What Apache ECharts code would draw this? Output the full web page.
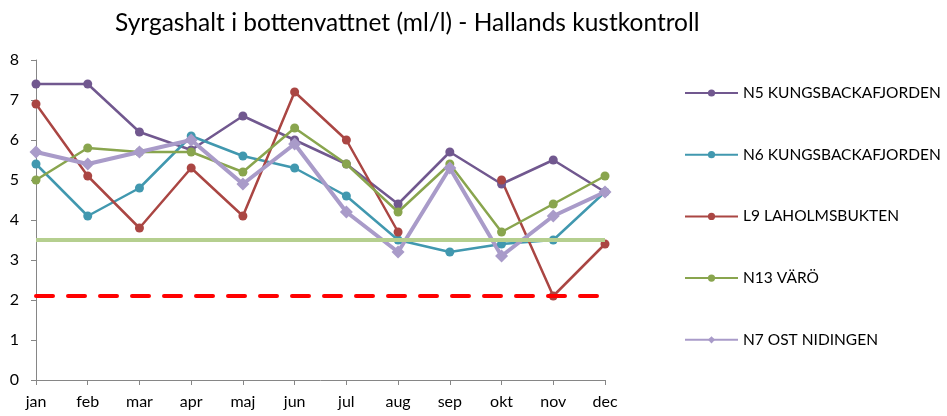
<!DOCTYPE html>
<html>
<head>
<meta charset="utf-8">
<script src="https://cdn.jsdelivr.net/npm/echarts@6/dist/echarts.min.js"></script>
<style>
  html, body { margin: 0; padding: 0; background: #fff; }
  #chart { width: 947px; height: 416px; }
</style>
</head>
<body>
<div id="chart"></div>
<script>
// månader
var months = ['jan', 'feb', 'mar', 'apr', 'maj', 'jun', 'jul', 'aug', 'sep', 'okt', 'nov', 'dec'];
// syrgashalt per station (ml/l)
var n5 = [7.4, 7.4, 6.2, 5.75, 6.6, 6.0, 5.4, 4.4, 5.7, 4.9, 5.5, 4.7];
var n6 = [5.4, 4.1, 4.8, 6.1, 5.6, 5.3, 4.6, 3.5, 3.2, 3.4, 3.5, 4.7];
var l9 = [6.9, 5.1, 3.8, 5.3, 4.1, 7.2, 6.0, 3.7, null, 5.0, 2.1, 3.4];
var n13 = [5.0, 5.8, 5.7, 5.7, 5.2, 6.3, 5.4, 4.2, 5.4, 3.7, 4.4, 5.1];
var n7 = [5.7, 5.4, 5.7, 6.0, 4.9, 5.9, 4.2, 3.2, 5.3, 3.1, 4.1, 4.7];
// gränsvärden
var limitGreen = 3.5;
var limitRed = 2.1;

var font = 'Lato';

function station(name, data, color, extra) {
  var s = {
    name: name,
    type: 'line',
    data: data,
    symbol: 'circle',
    symbolSize: 9,
    lineStyle: { color: color, width: 2.5 },
    itemStyle: { color: color },
    z: 3
  };
  return Object.assign(s, extra || {});
}

var myChart = echarts.init(document.getElementById('chart'));
var option = {
  animation: false,
  title: {
    text: 'Syrgashalt i bottenvattnet (ml/l) - Hallands kustkontroll',
    left: 110,
    top: 6,
    textStyle: { fontFamily: font, fontSize: 24.5, fontWeight: 'normal', color: '#000' }
  },
  legend: {
    orient: 'vertical',
    left: 679,
    top: 80,
    itemWidth: 53,
    itemHeight: 9,
    itemGap: 45.7,
    textStyle: { fontFamily: font, fontSize: 15.5, color: '#000' },
    data: ['N5 KUNGSBACKAFJORDEN', 'N6 KUNGSBACKAFJORDEN', 'L9 LAHOLMSBUKTEN', 'N13 VÄRÖ', 'N7 OST NIDINGEN']
  },
  grid: { left: 36, right: 342, top: 60, bottom: 36 },
  xAxis: {
    type: 'category',
    data: months,
    boundaryGap: false,
    axisLine: { lineStyle: { color: '#868686', width: 1 } },
    axisTick: { length: 5, lineStyle: { color: '#868686' } },
    axisLabel: { fontFamily: font, fontSize: 16, color: '#000', margin: 14 }
  },
  yAxis: {
    type: 'value',
    min: 0,
    max: 8,
    interval: 1,
    splitLine: { show: false },
    axisLine: { show: true, lineStyle: { color: '#868686', width: 1 } },
    axisTick: { show: true, length: 5, lineStyle: { color: '#868686' } },
    axisLabel: { fontFamily: font, fontSize: 16, color: '#000', margin: 17 }
  },
  series: [
    station('N5 KUNGSBACKAFJORDEN', n5, '#71588F', {
      markLine: {
        silent: true,
        symbol: 'none',
        label: { show: false },
        data: [
          { yAxis: limitGreen, lineStyle: { color: '#B5CF8F', width: 4, type: 'solid' } },
          { yAxis: limitRed, lineStyle: { color: '#FF0000', width: 4, type: [17, 15], cap: 'round' } }
        ]
      }
    }),
    station('N6 KUNGSBACKAFJORDEN', n6, '#4198AF'),
    station('L9 LAHOLMSBUKTEN', l9, '#AA4643'),
    station('N13 VÄRÖ', n13, '#89A54E'),
    station('N7 OST NIDINGEN', n7, '#A99BC9', {
      symbol: 'diamond',
      symbolSize: 13,
      lineStyle: { color: '#A99BC9', width: 4 }
    })
  ]
};
myChart.setOption(option);
</script>
</body>
</html>
